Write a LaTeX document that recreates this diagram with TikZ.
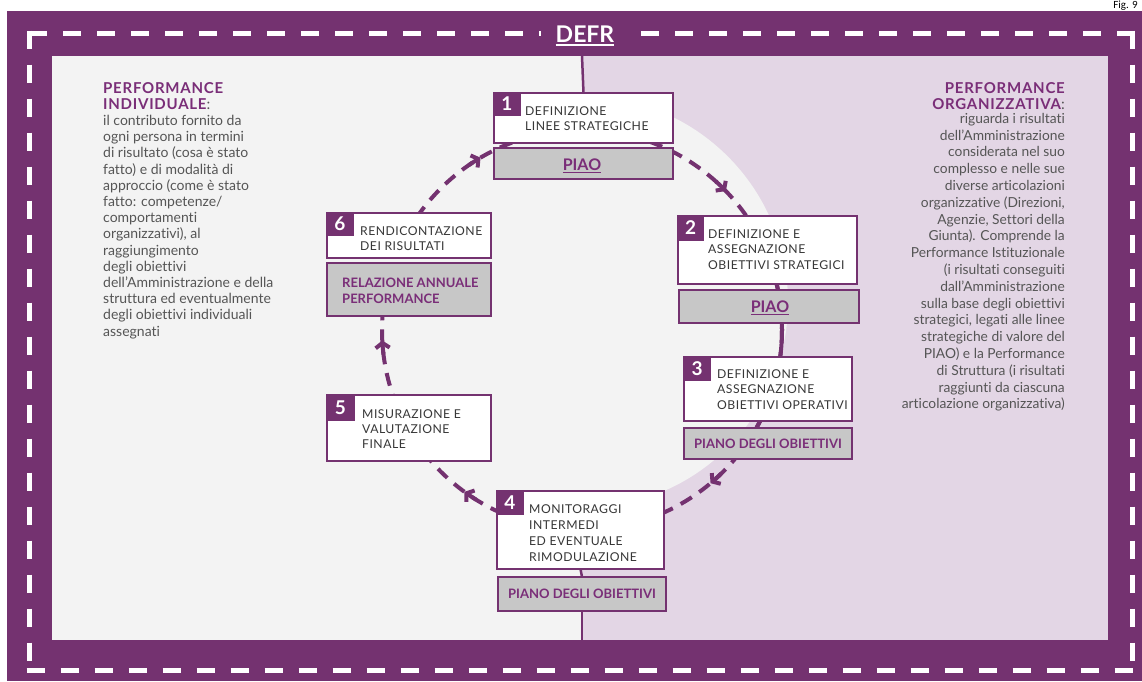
\documentclass[tikz,border=0pt]{standalone}
\usepackage{fontspec}
\setmainfont[Ligatures=NoCommon]{Lato}
\newfontfamily\capsfont[LetterSpace=4]{Lato}
\newfontfamily\headfont[LetterSpace=5]{Lato}
\newfontfamily\figfont{Carlito}
\newcommand\ulbox[3]{\vtop{\hbox{#3}\kern#1\hrule height#2}}
\usetikzlibrary{arrows.meta}
\definecolor{framec}{RGB}{116,50,112}
\definecolor{headpurple}{RGB}{122,46,120}
\definecolor{leftbg}{RGB}{243,243,243}
\definecolor{rightbg}{RGB}{227,214,229}
\definecolor{graybox}{RGB}{199,199,199}
\definecolor{bodytext}{RGB}{85,85,85}
\definecolor{boxtext}{RGB}{55,55,55}
\begin{document}
\begin{tikzpicture}[x=1pt,y=-1pt,
  dashframe/.style={draw=white,line width=5pt,dash pattern=on 18pt off 16pt},
  wbox/.style={draw=framec,line width=2.5pt,fill=white,inner sep=0pt,outer sep=0pt,anchor=north west},
  gbox/.style={draw=framec,line width=2.5pt,fill=graybox,inner sep=0pt,outer sep=0pt,anchor=north west},
  numsq/.style={fill=framec,draw=framec,line width=1pt,inner sep=0pt,outer sep=0pt,anchor=north west,text=white,font=\bfseries\fontsize{19}{19}\selectfont},
  btext/.style={anchor=north west,inner sep=0pt,align=left,text=boxtext,font=\capsfont\fontsize{12.2}{15.5}\selectfont},
  gtext/.style={inner sep=0pt,text=headpurple,font=\bfseries\fontsize{13}{16}\selectfont},
  ptext/.style={inner sep=0pt,anchor=base,text=headpurple,font=\bfseries\fontsize{16}{16}\selectfont},
  headtxt/.style={inner sep=0pt,text=headpurple,font=\headfont\bfseries\fontsize{15}{16}\selectfont},
  bodytxt/.style={inner sep=0pt,text=bodytext},
  divider/.style={draw=framec,line width=2.5pt},
  ring/.style={draw=framec,line width=4pt,dash pattern=on 13pt off 9pt},
  ringsolid/.style={draw=framec,line width=4pt},
  ringarrow/.style={draw=framec,line width=4pt,-{Straight Barb[length=5pt,width=14pt]}}
]
\useasboundingbox (0,0) rectangle (1142,681);
\fill[white] (0,0) rectangle (1142,681);
\node[anchor=base east,inner sep=0pt,font=\figfont\fontsize{11}{11}\selectfont] (fig) at (1138,8) {Fig. 9};
% frame and backgrounds
\fill[framec] (7,10.5) rectangle (1142,681);
\fill[leftbg] (52,56) rectangle (582,640);
\fill[rightbg] (582,56) rectangle (1108,640);
\fill[leftbg] (582,302) circle[radius=206];
% dashed frame
\draw[dashframe] (29,33) -- (1132,33);
\draw[dashframe] (29,30.5) -- (29,670);
\draw[dashframe] (1132,30.5) -- (1132,670);
\draw[dashframe] (26.5,670) -- (1134.5,670);
\node[anchor=base,fill=framec,text=white,inner xsep=15pt,inner ysep=4pt,font=\bfseries\fontsize{23}{23}\selectfont] (defr) at (585,42) {\ulbox{2pt}{2pt}{DEFR}};
% coordinates
\coordinate (dtop) at (582,56);
\coordinate (dbot) at (582,640);
\coordinate (ringc) at (582,330);
% ring
\draw[ring] (ringc) circle[radius=200];
\draw[ringsolid] (ringc) ++(-14:200) arc[start angle=-14,end angle=-10.5,radius=200];
\draw[ringsolid] (ringc) ++(-3:200) arc[start angle=-3,end angle=8.5,radius=200];
\draw[ringsolid] (ringc) ++(26.5:200) arc[start angle=26.5,end angle=30,radius=200];
\foreach \a in {-44,50,126,177,239.5}
  \draw[ringarrow] (ringc) ++(\a-4:200) arc[start angle=\a-4,end angle=\a,radius=200];
% boxes
\node[wbox,minimum width=179pt,minimum height=50pt] (b1) at (494,93) {};
\node[gbox,minimum width=179pt,minimum height=31pt] (p1) at (494,148) {};
\node[wbox,minimum width=179pt,minimum height=68pt] (b2) at (678,216) {};
\node[gbox,minimum width=180pt,minimum height=33pt] (p2) at (679,290) {};
\node[wbox,minimum width=168pt,minimum height=64pt] (b3) at (684,357) {};
\node[gbox,minimum width=168pt,minimum height=31pt] (p3) at (684,428) {};
\node[wbox,minimum width=167pt,minimum height=78pt] (b4) at (497,491) {};
\node[gbox,minimum width=168pt,minimum height=34pt] (p4) at (498,577) {};
\node[wbox,minimum width=164pt,minimum height=66pt] (b5) at (327,395) {};
\node[wbox,minimum width=164pt,minimum height=45pt] (b6) at (327,213) {};
\node[gbox,minimum width=164pt,minimum height=53pt] (p6) at (327,263) {};
% divider connectors
\draw[divider] (dtop) -- (b1.north);
\draw[divider] (b4.south) -- (p4.north);
\draw[divider] (p4.south) -- (dbot);
% number squares
\node[numsq,minimum width=26pt,minimum height=22pt] (n1) at (b1.north west) {1};
\node[numsq,minimum width=25pt,minimum height=24pt] (n2) at (b2.north west) {2};
\node[numsq,minimum width=26pt,minimum height=23pt] (n3) at (b3.north west) {3};
\node[numsq,minimum width=26pt,minimum height=23pt] (n4) at (b4.north west) {4};
\node[numsq,minimum width=27pt,minimum height=25pt] (n5) at (b5.north west) {5};
\node[numsq,minimum width=26pt,minimum height=22pt] (n6) at (b6.north west) {6};
% box texts
\node[btext] (t1) at (525,106) {DEFINIZIONE\\LINEE STRATEGICHE};
\node[btext] (t2) at (708,229) {DEFINIZIONE E\\ASSEGNAZIONE\\OBIETTIVI STRATEGICI};
\node[btext] (t3) at (717,369) {DEFINIZIONE E\\ASSEGNAZIONE\\OBIETTIVI OPERATIVI};
\node[btext,font=\capsfont\fontsize{12.2}{16.3}\selectfont] (t4) at (529,504) {MONITORAGGI\\INTERMEDI\\ED EVENTUALE\\RIMODULAZIONE};
\node[btext,font=\capsfont\fontsize{12.2}{15}\selectfont] (t5) at (362,409) {MISURAZIONE E\\VALUTAZIONE\\FINALE};
\node[btext] (t6) at (360,226) {RENDICONTAZIONE\\DEI RISULTATI};
% gray box texts
\node[ptext] (g1) at (582,170) {\ulbox{1.5pt}{1.5pt}{PIAO}};
\node[ptext] (g2) at (770,312) {\ulbox{1.5pt}{1.5pt}{PIAO}};
\node[gtext] (g3) at (p3.center) {PIANO DEGLI OBIETTIVI};
\node[gtext] (g4) at (p4.center) {PIANO DEGLI OBIETTIVI};
\node[gtext,anchor=north west,align=left] (g6) at (342,278) {RELAZIONE ANNUALE\\PERFORMANCE};
% side texts
\node[headtxt,anchor=north west,align=left] (lhead) at (103,82) {PERFORMANCE\\INDIVIDUALE{\normalfont\color{bodytext}:}};
\node[bodytxt,anchor=north west,align=left,font=\fontsize{14}{16.2}\selectfont] (lbody) at (103,115) {il contributo fornito da\\ogni persona in termini\\di risultato (cosa è stato\\fatto) e di modalità di\\approccio (come è stato\\fatto: competenze/\\comportamenti\\organizzativi), al\\raggiungimento\\degli obiettivi\\dell’Amministrazione e della\\struttura ed eventualmente\\degli obiettivi individuali\\assegnati};
\node[headtxt,anchor=north east,align=right] (rhead) at (1065,82) {PERFORMANCE\\ORGANIZZATIVA{\normalfont\color{bodytext}:}};
\node[bodytxt,anchor=north east,align=right,font=\fontsize{13.8}{16.8}\selectfont] (rbody) at (1065,113) {riguarda i risultati\\dell’Amministrazione\\considerata nel suo\\complesso e nelle sue\\diverse articolazioni\\organizzative (Direzioni,\\Agenzie, Settori della\\Giunta). Comprende la\\Performance Istituzionale\\(i risultati conseguiti\\dall’Amministrazione\\sulla base degli obiettivi\\strategici, legati alle linee\\strategiche di valore del\\PIAO) e la Performance\\di Struttura (i risultati\\raggiunti da ciascuna\\articolazione organizzativa)};
\end{tikzpicture}
\end{document}
